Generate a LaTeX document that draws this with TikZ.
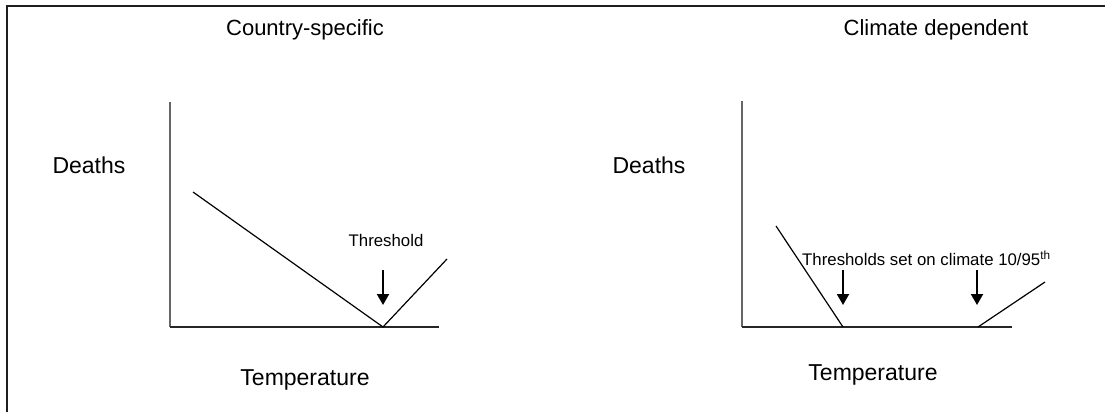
\documentclass[tikz,border=0pt]{standalone}
\usepackage{fontspec}
\setmainfont{Liberation Sans}
\usetikzlibrary{arrows.meta}
\begin{document}
\begin{tikzpicture}[x=1pt,y=-1pt,
  title/.style={inner sep=0pt,font=\fontsize{22}{24}\selectfont},
  lbl/.style={inner sep=0pt,font=\fontsize{23}{25}\selectfont},
  small/.style={inner sep=0pt,font=\fontsize{16.8}{18}\selectfont},
  axisy/.style={draw=black!60,line width=2pt},
  axisx/.style={draw=black!85,line width=1.5pt},
  curve/.style={draw=black,line width=1.2pt},
  thr/.style={draw=black,line width=2pt,-{Triangle[width=12pt,length=11pt]}},
  frame/.style={draw=black!88,line width=2.2pt}]
\useasboundingbox (0,0) rectangle (1105,412);
% frame (top and left only)
\coordinate (f1) at (7,412);
\coordinate (f2) at (7,6);
\coordinate (f3) at (1105,6);
\draw[frame] (f1) -- (f2) -- (f3);
% ---------- left panel ----------
\node[title] (t1) at (305,30) {Country-specific};
\node[lbl] (d1) at (89,165) {Deaths};
\node[lbl] (x1) at (305,380) {Temperature};
\coordinate (o1) at (170,327);
\coordinate (ya1) at (170,102);
\coordinate (xa1) at (439,327);
\draw[axisy] (ya1) -- (o1);
\draw[axisx] (o1) -- (xa1);
\coordinate (a1) at (193,192);
\coordinate (v1) at (383,327);
\coordinate (b1) at (447,259);
\draw[curve] (a1) -- (v1) -- (b1);
\node[small] (th1) at (386,240) {Threshold};
\coordinate (ar1s) at (383,270);
\coordinate (ar1e) at (383,305);
\draw[thr] (ar1s) -- (ar1e);
% ---------- right panel ----------
\node[title] (t2) at (936,30) {Climate dependent};
\node[lbl] (d2) at (649,165) {Deaths};
\node[lbl] (x2) at (873,375) {Temperature};
\coordinate (o2) at (742,327);
\coordinate (ya2) at (742,101);
\coordinate (xa2) at (1012,327);
\draw[axisy] (ya2) -- (o2);
\draw[axisx] (o2) -- (xa2);
\coordinate (a2) at (776,226);
\coordinate (v2) at (843,327);
\coordinate (v3) at (978,327);
\coordinate (b2) at (1045,282);
\draw[curve] (a2) -- (v2);
\draw[curve] (v3) -- (b2);
\node[small,anchor=west] (th2) at (802,258) {Thresholds set on climate 10/95\textsuperscript{th}};
\coordinate (ar2s) at (843,270);
\coordinate (ar2e) at (843,305);
\draw[thr] (ar2s) -- (ar2e);
\coordinate (ar3s) at (977,270);
\coordinate (ar3e) at (977,305);
\draw[thr] (ar3s) -- (ar3e);
\end{tikzpicture}
\end{document}
